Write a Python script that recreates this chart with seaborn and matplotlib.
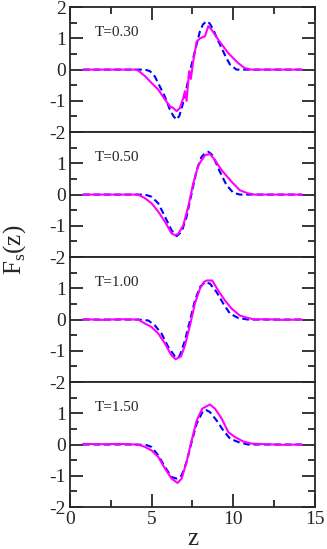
import numpy as np
import pandas as pd
import matplotlib
matplotlib.use("Agg")
import matplotlib.pyplot as plt
import seaborn as sns

# temperatures shown in each panel
temps = ["T=0.30", "T=0.50", "T=1.00", "T=1.50"]

# blue dashed curves
x_b1 = [0.8, 2.0, 3.0, 4.0, 4.6, 4.9, 5.2, 5.4, 5.8, 6.12, 6.35, 6.53, 6.7, 6.84, 7.0, 7.14, 7.35, 7.65,
        7.96, 8.15, 8.37, 8.55, 8.78, 9.0, 9.29, 9.55, 9.8, 10.2, 11.0, 12.0, 13.0, 14.2]
y_b1 = [0, 0, 0, 0, 0.0, -0.05, -0.22, -0.43, -0.85, -1.28, -1.5, -1.6, -1.48, -1.23, -0.92, -0.59, -0.05, 0.59,
        1.23, 1.45, 1.55, 1.48, 1.28, 1.0, 0.69, 0.4, 0.16, 0.0, 0, 0, 0, 0]
x_b2 = [0.8, 2, 3, 4, 4.6, 5.0, 5.41, 5.82, 6.22, 6.53, 6.84, 7.14, 7.45, 7.76, 8.06, 8.3, 8.47, 8.65, 8.78,
        9.18, 9.59, 10.0, 10.4, 11, 12, 13, 14.2]
y_b2 = [0, 0, 0, 0, 0, -0.07, -0.28, -0.71, -1.14, -1.33, -1.19, -0.71, 0.04, 0.78, 1.21, 1.34, 1.37, 1.3, 1.21,
        0.73, 0.3, 0.06, 0, 0, 0, 0, 0]
x_b3 = [0.8, 2, 3, 4, 4.18, 4.8, 5.2, 5.61, 6.02, 6.43, 6.6, 6.73, 7.04, 7.35, 7.65, 7.96, 8.27, 8.57, 8.98,
        9.39, 9.8, 10.3, 10.9, 12, 13, 14.2]
y_b3 = [0, 0, 0, 0, 0, -0.03, -0.19, -0.45, -0.88, -1.18, -1.22, -1.15, -0.67, -0.03, 0.61, 1.04, 1.2, 1.15, 0.88,
        0.51, 0.19, 0.05, 0, 0, 0, 0]
x_b4 = [0.8, 2, 3, 4, 4.7, 5.0, 5.41, 5.82, 6.22, 6.53, 6.84, 7.14, 7.45, 7.76, 8.16, 8.35, 8.57, 8.98, 9.39,
        9.8, 10.3, 10.9, 12, 13, 14.2]
y_b4 = [0, 0, 0, 0, -0.02, -0.08, -0.35, -0.72, -1.04, -1.09, -0.99, -0.56, 0.08, 0.67, 1.09, 1.1, 1.04, 0.77, 0.45,
        0.19, 0.08, 0, 0, 0, 0]

# magenta solid curves
x_p1 = [0.8, 2, 3, 4.0, 4.18, 4.6, 5.0, 5.41, 5.82, 6.12, 6.33, 6.53, 6.73, 6.94, 7.04, 7.14, 7.3, 7.4, 7.55,
        7.76, 7.96, 8.27, 8.47, 8.67, 9.08, 9.69, 10.3, 10.7, 11.1, 12, 13, 14.2]
y_p1 = [0, 0, 0, 0, -0.03, -0.21, -0.43, -0.64, -0.96, -1.17, -1.23, -1.33, -1.23, -0.9, -0.69, -1.0, -0.05, -0.3, 0.27,
        0.9, 1.0, 1.07, 1.39, 1.28, 0.96, 0.53, 0.21, 0.05, 0, 0, 0, 0]
x_p2 = [0.8, 2, 3, 4, 4.18, 4.6, 5.0, 5.41, 5.82, 6.22, 6.43, 6.63, 6.94, 7.24, 7.55, 7.86, 8.27, 8.57, 8.88,
        9.29, 9.9, 10.4, 10.9, 11.3, 12, 13, 14.2]
y_p2 = [0, 0, 0, 0, 0, -0.12, -0.28, -0.55, -0.87, -1.24, -1.3, -1.26, -0.98, -0.39, 0.36, 0.94, 1.26, 1.3, 1.1,
        0.78, 0.41, 0.14, 0.04, 0, 0, 0, 0]
x_p3 = [0.8, 2, 3, 4, 4.18, 4.6, 5.0, 5.41, 5.82, 6.22, 6.47, 6.8, 7.04, 7.35, 7.65, 7.96, 8.2, 8.37, 8.71,
        9.08, 9.49, 9.9, 10.4, 10.9, 11.3, 12, 13, 14.2]
y_p3 = [0.01, -0.01, 0.01, 0, 0, -0.13, -0.24, -0.45, -0.77, -1.15, -1.27, -1.18, -0.83, -0.19, 0.51, 0.99, 1.2, 1.25,
        1.25, 0.93, 0.61, 0.35, 0.13, 0.05, 0, 0.01, -0.01, 0]
x_p4 = [0.8, 2, 3, 4, 4.18, 4.6, 5.0, 5.41, 5.82, 6.22, 6.59, 6.84, 7.14, 7.45, 7.76, 8.1, 8.57, 8.88, 9.29,
        9.69, 10.1, 10.6, 11.1, 12, 13, 14.2]
y_p4 = [0.02, 0.01, 0.02, 0, 0, -0.08, -0.19, -0.4, -0.77, -1.09, -1.23, -1.09, -0.56, 0.13, 0.77, 1.15, 1.28, 1.15,
        0.83, 0.4, 0.24, 0.1, 0.03, 0.01, -0.01, 0]

blue_x = [x_b1, x_b2, x_b3, x_b4]
blue_y = [y_b1, y_b2, y_b3, y_b4]
pink_x = [x_p1, x_p2, x_p3, x_p4]
pink_y = [y_p1, y_p2, y_p3, y_p4]

sns.set_style("ticks")
plt.rcParams['font.family'] = ['Liberation Serif', 'DejaVu Serif']
plt.rcParams['mathtext.fontset'] = 'custom'
plt.rcParams['mathtext.rm'] = 'Liberation Serif'

fig, axes = plt.subplots(4, 1, sharex=True, figsize=(3.27, 5.49), dpi=100)
fig.subplots_adjust(left=0.214, right=0.963, top=0.987, bottom=0.0765, hspace=0)

for i, ax in enumerate(axes):
    sns.lineplot(x=blue_x[i], y=blue_y[i], ax=ax, color="#0000ff", linewidth=1.5,
                 linestyle=(0, (3.2, 1.8)))
    sns.lineplot(x=pink_x[i], y=pink_y[i], ax=ax, color="#ff00ff", linewidth=1.5)
    ax.set_xlim(0, 15)
    ax.set_ylim(-2, 2)
    ax.set_yticks([-2, -1, 0, 1, 2])
    ax.set_yticks(np.arange(-2, 2.01, 0.5), minor=True)
    if i == 0:
        ax.set_yticklabels(["-2", "-1", "0", "1", "2"])
    else:
        ax.set_yticklabels(["-2", "-1", "0", "1", ""])
    ax.set_xticks([0, 5, 10, 15])
    ax.set_xticks([2.5, 7.5, 12.5], minor=True)
    ax.tick_params(which="both", direction="in", width=1.3, labelsize=14, pad=3,
                   left=True, right=True, top=(i == 0), bottom=(i == 3))
    ax.tick_params(which="major", length=9.5)
    ax.tick_params(which="minor", length=5)
    for sp in ax.spines.values():
        sp.set_linewidth(1.3)
        sp.set_visible(True)
    ax.text(0.10, 0.80, temps[i], transform=ax.transAxes, fontsize=11, va="center", ha="left")
    ax.set_ylabel("")

axes[3].set_xlabel("z", fontsize=18, labelpad=0)
fig.text(0.045, 0.545, r"F$_{\mathrm{s}}$(z)", rotation=90, fontsize=18, ha="center", va="center")

plt.savefig("out.png", dpi=100)
